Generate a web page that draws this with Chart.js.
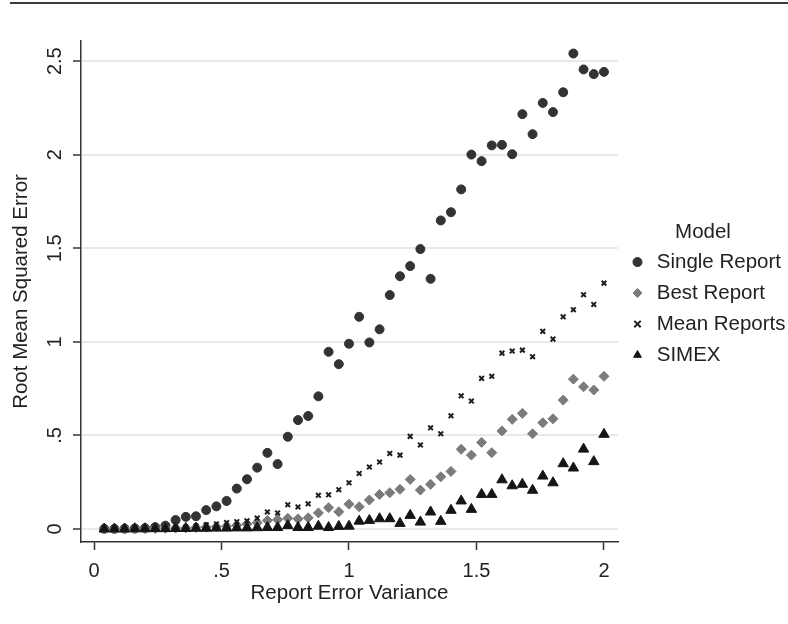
<!DOCTYPE html>
<html>
<head>
<meta charset="utf-8">
<script src="https://cdn.jsdelivr.net/npm/chart.js@4.4.1/dist/chart.umd.min.js"></script>
<style>
  html, body { margin: 0; padding: 0; background: #fff; }
  #wrap { position: relative; width: 788px; height: 624px; }
  #topRule { position: absolute; left: 10px; right: 0; top: 2px; height: 2px; background: #3a3a3a; }
  canvas { display: block; }
</style>
</head>
<body>
<div id="wrap">
  <div id="topRule"></div>
  <canvas id="rmseChart" width="788" height="624"></canvas>
</div>
<script>
// report error variance (x)
var variance = [0.04, 0.08, 0.12, 0.16, 0.20, 0.24, 0.28, 0.32, 0.36, 0.40,
                0.44, 0.48, 0.52, 0.56, 0.60, 0.64, 0.68, 0.72, 0.76, 0.80,
                0.84, 0.88, 0.92, 0.96, 1.00, 1.04, 1.08, 1.12, 1.16, 1.20,
                1.24, 1.28, 1.32, 1.36, 1.40, 1.44, 1.48, 1.52, 1.56, 1.60,
                1.64, 1.68, 1.72, 1.76, 1.80, 1.84, 1.88, 1.92, 1.96, 2.00];

var singleReport = [0.001, 0.001, 0.002, 0.003, 0.005, 0.010, 0.018, 0.048, 0.065, 0.068,
                    0.101, 0.121, 0.150, 0.216, 0.266, 0.328, 0.407, 0.347, 0.493, 0.582,
                    0.604, 0.709, 0.947, 0.881, 0.990, 1.134, 0.997, 1.067, 1.250, 1.351,
                    1.405, 1.496, 1.337, 1.649, 1.693, 1.815, 2.001, 1.966, 2.050, 2.053,
                    2.003, 2.217, 2.110, 2.277, 2.228, 2.334, 2.541, 2.456, 2.431, 2.443];

var bestReport = [0.000, 0.000, 0.001, 0.001, 0.002, 0.003, 0.004, 0.005, 0.006, 0.008,
                  0.010, 0.012, 0.015, 0.020, 0.027, 0.034, 0.046, 0.050, 0.057, 0.054,
                  0.060, 0.086, 0.114, 0.092, 0.133, 0.119, 0.155, 0.184, 0.194, 0.212,
                  0.265, 0.208, 0.239, 0.279, 0.308, 0.426, 0.395, 0.463, 0.408, 0.524,
                  0.586, 0.618, 0.509, 0.568, 0.589, 0.689, 0.801, 0.760, 0.743, 0.816];

var meanReports = [0.000, 0.000, 0.001, 0.001, 0.002, 0.003, 0.005, 0.008, 0.011, 0.016,
                   0.022, 0.027, 0.034, 0.039, 0.044, 0.058, 0.091, 0.086, 0.130, 0.118,
                   0.135, 0.180, 0.183, 0.210, 0.247, 0.297, 0.331, 0.358, 0.404, 0.395,
                   0.495, 0.449, 0.541, 0.509, 0.605, 0.712, 0.684, 0.805, 0.816, 0.940,
                   0.951, 0.956, 0.921, 1.056, 1.015, 1.134, 1.172, 1.252, 1.200, 1.314];

var simex = [0.000, 0.000, 0.000, 0.001, 0.001, 0.002, 0.002, 0.003, 0.003, 0.004,
             0.004, 0.005, 0.005, 0.006, 0.006, 0.007, 0.008, 0.008, 0.018, 0.008,
             0.008, 0.015, 0.008, 0.014, 0.015, 0.042, 0.046, 0.055, 0.055, 0.030,
             0.073, 0.037, 0.091, 0.041, 0.100, 0.150, 0.105, 0.185, 0.185, 0.263,
             0.231, 0.239, 0.207, 0.283, 0.247, 0.349, 0.326, 0.427, 0.360, 0.506];

var xTicks = [0, 0.5, 1, 1.5, 2];
var yTicks = [0, 0.5, 1, 1.5, 2, 2.5];

function pairs(ys) {
    return ys.map(function (y, i) { return { x: variance[i], y: y }; });
}
// stata style: ".5" not "0.5"
function fmt(v) {
    return String(v).replace(/^0\./, ".");
}

Chart.defaults.font.family = "'Liberation Sans', Arial, Helvetica, sans-serif";
Chart.defaults.font.size = 20;
Chart.defaults.color = "#222";

new Chart("rmseChart", {
    type: "scatter",
    data: {
        datasets: [{
            label: "Single Report",
            data: pairs(singleReport),
            pointStyle: "circle",
            pointRadius: 4.5,
            backgroundColor: "#333333",
            borderColor: "#333333",
            borderWidth: 1,
            order: 4
        }, {
            label: "Best Report",
            data: pairs(bestReport),
            pointStyle: "rectRot",
            pointRadius: 5,
            backgroundColor: "#7b7b7b",
            borderColor: "#7b7b7b",
            borderWidth: 1,
            order: 3
        }, {
            label: "Mean Reports",
            data: pairs(meanReports),
            pointStyle: "crossRot",
            pointRadius: 3.3,
            backgroundColor: "#1e1e1e",
            borderColor: "#1e1e1e",
            borderWidth: 2,
            order: 2
        }, {
            label: "SIMEX",
            data: pairs(simex),
            pointStyle: "triangle",
            pointRadius: 6,
            backgroundColor: "#151515",
            borderColor: "#151515",
            borderWidth: 1,
            order: 1
        }]
    },
    options: {
        responsive: false,
        animation: false,
        layout: { padding: { top: 41, left: 0, right: 0, bottom: 0 } },
        plugins: {
            tooltip: { enabled: false },
            legend: {
                position: "right",
                fullSize: false,
                maxWidth: 170,
                title: { display: true, text: "Model", color: "#222", font: { size: 20.5 },
                         padding: { top: 14.5, bottom: -5 } },
                labels: {
                    usePointStyle: true,
                    boxWidth: 18,
                    boxHeight: 6.4,
                    padding: 10.5,
                    color: "#222",
                    font: { size: 20.5 },
                    sort: function (a, b) { return a.datasetIndex - b.datasetIndex; }
                }
            }
        },
        scales: {
            x: {
                type: "linear",
                min: -0.051,
                max: 2.055,
                afterBuildTicks: function (s) { s.ticks = xTicks.map(function (v) { return { value: v }; }); },
                afterFit: function (s) { s.height = 82; },
                ticks: { callback: fmt, padding: 9, maxRotation: 0, color: "#222" },
                grid: { drawOnChartArea: false, tickLength: 8, tickColor: "#333", tickWidth: 1.5 },
                border: { color: "#333", width: 1.5 },
                title: { display: true, text: "Report Error Variance", color: "#222",
                         font: { size: 20.5 }, padding: { top: 0, bottom: 18 } }
            },
            y: {
                type: "linear",
                min: -0.0694,
                max: 2.608,
                afterBuildTicks: function (s) { s.ticks = yTicks.map(function (v) { return { value: v }; }); },
                afterFit: function (s) { s.width = 81; },
                ticks: { callback: fmt, minRotation: 90, maxRotation: 90, crossAlign: "center",
                         padding: 4, color: "#222" },
                grid: { color: "#e9e9e9", lineWidth: 2, tickColor: "#333", tickLength: 8, tickWidth: 1.5 },
                border: { color: "#333", width: 1.5 },
                title: { display: true, text: "Root Mean Squared Error", color: "#222",
                         font: { size: 20.5 }, padding: { top: 9, bottom: 0 } }
            }
        }
    }
});
</script>
</body>
</html>
